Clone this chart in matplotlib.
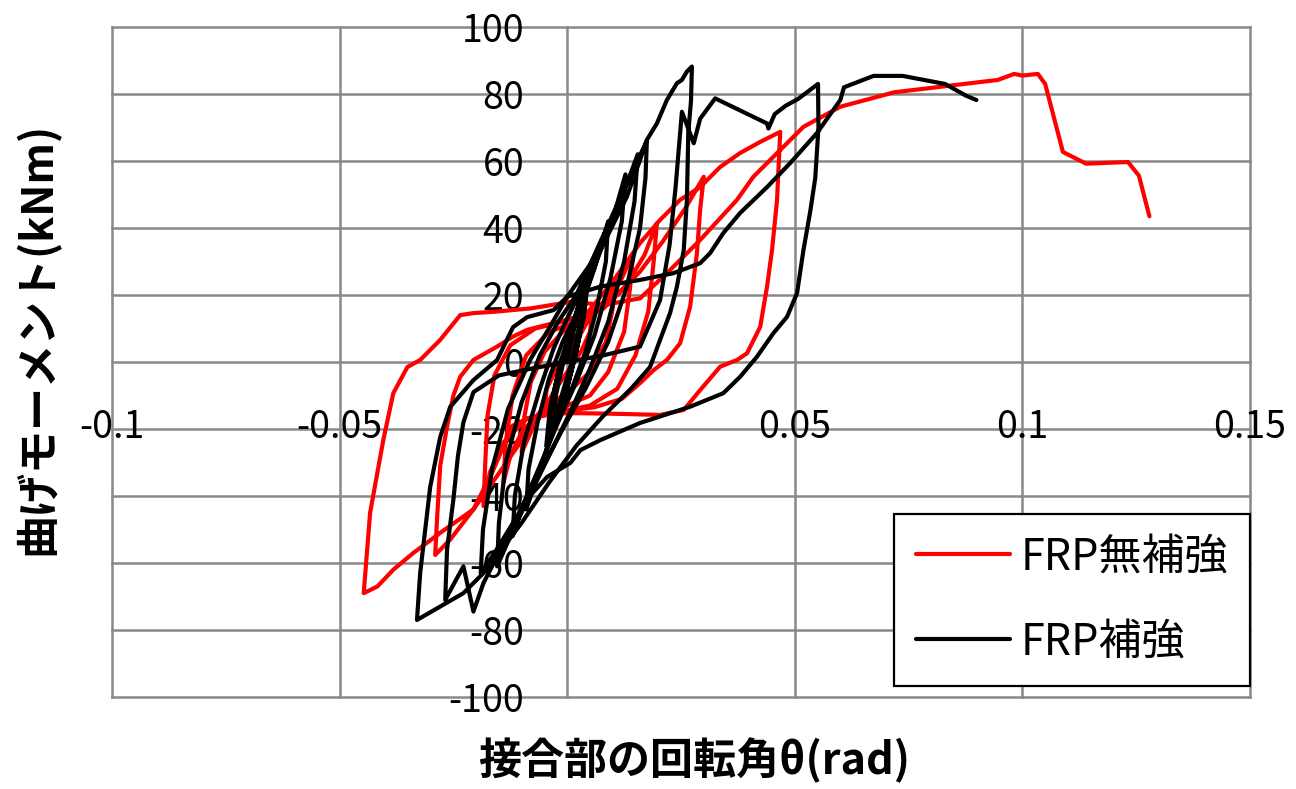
import matplotlib
matplotlib.use("Agg")
import matplotlib.pyplot as plt

plt.rcParams['font.family'] = ['Noto Sans CJK JP', 'DejaVu Sans']
plt.rcParams['axes.unicode_minus'] = False

# FRP無補強 (red) - rotation angle (rad) / bending moment (kNm), in loading order
red_theta = [
    0.000, 0.002, 0.004, 0.0055, 0.005, 0.003, 0.000, -0.003, -0.005, -0.0045, -0.002,
    0.001, 0.005, 0.008, 0.0105, 0.010, 0.0085, 0.005, 0.001, -0.003, -0.007, -0.010,
    -0.0095, -0.008, -0.005, -0.001,
    0.004, 0.009, 0.012, 0.0145, 0.0138, 0.0125, 0.009, 0.005, 0.000, -0.006, -0.010,
    -0.0125, -0.014, -0.0135, -0.012, -0.009, -0.004,
    0.002, 0.008, 0.013, 0.017, 0.0197, 0.019, 0.0178, 0.015, 0.011, 0.005, -0.002,
    -0.009, -0.014, -0.017, -0.0184, -0.018, -0.0175, -0.016, -0.0125, -0.007, -0.001,
    0.005, 0.011, 0.016, 0.021, 0.026, 0.030, 0.0292, 0.0285, 0.027, 0.0248, 0.0219,
    0.019, 0.016, 0.012, 0.006, 0.000, -0.006, -0.0103, -0.0154, -0.0206, -0.0257, -0.029,
    -0.0286, -0.0279, -0.0264, -0.025, -0.0235, -0.0206, -0.0154, -0.0119, -0.0088, -0.003,
    0.004, 0.010, 0.016, 0.0204, 0.0248, 0.0292, 0.0336, 0.038, 0.0424, 0.0468,
    0.0461, 0.045, 0.0439, 0.0424, 0.0395, 0.0373, 0.0336, 0.0292, 0.0256, 0.0204,
    0.012, 0.004, -0.001, -0.008, -0.012, -0.0165, -0.0206, -0.0279, -0.0338, -0.0382,
    -0.0417, -0.0447,
    -0.0433, -0.0404, -0.0382, -0.0351, -0.0323, -0.0279, -0.0235, -0.0206, -0.016, -0.008,
    0.001, 0.008, 0.016, 0.0219, 0.0292, 0.0373, 0.0409, 0.0468, 0.0519, 0.060, 0.0718,
    0.0946, 0.0982, 0.100, 0.1034, 0.105, 0.1089, 0.114, 0.1232, 0.1256, 0.1279,
]
red_moment = [
    0, 6, 11, 15, 9, 3, -3, -9, -14, -8, -1,
    6, 13, 18, 25, 16, 6, -3, -8, -12, -18, -27,
    -17, -6, 3, 9,
    13, 19, 25, 32.5, 22, 9, -3, -10, -13, -15, -21,
    -28, -36, -24, -10, 2, 9,
    12, 16, 23, 32, 41.4, 30, 15, 2, -8, -13, -15,
    -17, -24, -33, -43, -30, -16, -4, 5, 10, 12,
    15, 20, 27, 36, 46, 55.3, 45.4, 32.4, 16.5, 5.6, 0.6,
    -2.4, -6.3, -11, -13.5, -14.5, -16, -24, -34, -44, -53, -57.6,
    -47, -31, -19.3, -10, -4.4, 0.6, 4.6, 7.6, 9.6, 11.6,
    14, 24, 35.5, 42.4, 48.4, 52.2, 58.2, 62.4, 65.7, 68.7,
    48.4, 33.4, 22.5, 10.5, 2.6, 0.6, -1.4, -8.4, -14.3, -15.8,
    -15.5, -15.3, -15.3, -16.5, -19, -33, -44, -51, -57, -62,
    -67, -69,
    -45, -23.3, -9.3, -1.5, 0.6, 6.6, 14, 14.6, 15, 16,
    18, 17, 19, 26.5, 36.4, 48.4, 55.3, 63.3, 70.2, 76.2, 80.5,
    84.2, 86, 85.5, 86, 83, 62.7, 59.2, 59.7, 55.6, 43.5,
]

# FRP補強 (black)
black_theta = [
    0.000, 0.0015, 0.003, 0.0025, 0.001, -0.001, -0.003, -0.0025, -0.001,
    0.001, 0.0035, 0.003, 0.0015, -0.0005, -0.0035, -0.003, -0.0015,
    0.0005, 0.0038, 0.0032, 0.0015, -0.0008, -0.0038, -0.0032, -0.0015,
    0.001, 0.0042, 0.0035, 0.0018, -0.0005, -0.004, -0.0033, -0.0015,
    0.0005, 0.0044, 0.0036, 0.002, -0.0008, -0.0042, -0.0035, -0.0015,
    0.0008, 0.0040, 0.0034, 0.0017, -0.0006, -0.0045, -0.0037, -0.0018,
    0.0006, 0.0046, 0.0038, 0.0021, -0.0004, -0.0040, -0.0034, -0.0012,
    0.0010, 0.0041, 0.0036, 0.0019, -0.0010, -0.0046, -0.0038, -0.0016,
    0.0004, 0.0043, 0.0035, 0.0016, -0.0007, -0.0043, -0.0036, -0.0014,
    0.002, 0.006, 0.009, 0.0085, 0.0065, 0.004, 0.001, -0.003, -0.006, -0.009,
    -0.0085, -0.0065, -0.004, -0.001,
    0.003, 0.007, 0.0105, 0.0128, 0.012, 0.0095, 0.006, 0.002, -0.002, -0.006, -0.0095,
    -0.012, -0.0115, -0.0095, -0.006, -0.003, 0.000,
    0.004, 0.0085, 0.0125, 0.0155, 0.0148, 0.0125, 0.009, 0.005, 0.001, -0.004, -0.009,
    -0.0125, -0.0154, -0.015, -0.0135, -0.010, -0.006, -0.002, 0.002,
    0.006, 0.010, 0.014, 0.0175, 0.0172, 0.016, 0.013, 0.009, 0.004, -0.001, -0.006,
    -0.011, -0.0155, -0.019, -0.0185, -0.0165, -0.013, -0.008, -0.004, 0.000,
    0.0073, 0.0131, 0.016, 0.0175, 0.0197, 0.0219, 0.0241, 0.0252, 0.0263, 0.0274,
    0.0272, 0.0266, 0.0263, 0.0256, 0.0241, 0.0226, 0.0204, 0.0182, 0.014, 0.008, 0.002,
    -0.004, -0.010, -0.015, -0.0184, -0.0206, -0.0228, -0.0268,
    -0.0264, -0.025, -0.024, -0.0228, -0.0206, -0.015, -0.008, 0.000, 0.008, 0.016,
    0.0204, 0.0225, 0.0238, 0.0252,
    0.0278, 0.0292, 0.0305, 0.0325, 0.0439, 0.0442, 0.0456, 0.048, 0.0507, 0.0551,
    0.0552, 0.0545, 0.0534, 0.0519, 0.0505, 0.0483, 0.0453, 0.0417, 0.038, 0.0343, 0.0271,
    0.016, 0.0073, 0.0029, 0.0007, -0.0044, -0.0089, -0.0132, -0.0184, -0.0228, -0.0279, -0.033,
    -0.0323, -0.0301, -0.0279, -0.0257, -0.0206, -0.0154, -0.0119, -0.0088, -0.003, 0.000,
    0.0073, 0.016, 0.0233, 0.0292, 0.0314, 0.0343, 0.038, 0.0439, 0.049, 0.0549, 0.060,
    0.0608, 0.0673, 0.0737, 0.083, 0.0876, 0.0899,
]
black_moment = [
    0, 10, 19, 10, 0, -9, -19, -10, -1,
    8, 21, 11, 1, -10, -21, -11, -1,
    8, 23, 12, 1, -12, -23, -12, 0,
    10, 24, 13, 2, -10, -24, -13, -1,
    8, 25, 14, 3, -12, -25, -14, -1,
    9, 22, 13, 2, -11, -26, -15, -2,
    8, 25, 15, 4, -10, -22, -13, 0,
    10, 23, 14, 3, -12, -25, -14, -1,
    7, 24, 13, 1, -11, -24, -13, 0,
    12, 28, 42, 30, 16, 3, -8, -20, -32, -44,
    -32, -18, -5, 6,
    17, 32, 45, 56, 42, 25, 8, -6, -18, -31, -42,
    -52, -40, -24, -8, 4, 13,
    24, 38, 51, 62, 48, 30, 12, -2, -14, -28, -42,
    -52, -61, -48, -30, -12, 2, 12, 20,
    32, 44, 56, 66, 55, 40, 22, 6, -8, -20, -33,
    -46, -56, -63, -50, -32, -14, 1, 10, 19.5,
    33.4, 49.3, 60.3, 66.3, 71.2, 78.2, 83.2, 84.2, 86.7, 88.2,
    78, 68.4, 48.4, 33.4, 22.5, 14.6, 6.6, -1.5, -8, -16, -25,
    -36, -48, -57, -66, -74.5, -61, -71,
    -56, -41, -28, -18, -9, -4, -2, 0, 2, 4.6,
    18.5, 35, 52, 74.7,
    65.3, 72.6, 75, 78.7, 71.2, 69.7, 74, 76.5, 78.5, 83,
    70, 55, 45, 33.4, 20.6, 13.5, 8.6, 1.6, -4.4, -9.3, -13.3,
    -18.2, -23.3, -26.3, -30.1, -34.3, -41, -53, -63, -69, -73, -77,
    -63, -37.3, -22.4, -13.4, -5.4, 0.6, 10.4, 13.4, 15.5, 19.5,
    22.5, 24.5, 26.5, 29.5, 32.5, 38.5, 44.5, 52.2, 59.4, 68.4, 78.2,
    82, 85.4, 85.4, 83, 79.5, 78.2,
]

x_ticks = [-0.1, -0.05, 0.05, 0.1, 0.15]
x_tick_labels = ['-0.1', '-0.05', '0.05', '0.1', '0.15']
y_ticks = [-100, -80, -60, -40, -20, 0, 20, 40, 60, 80, 100]

fig = plt.figure(figsize=(12.96, 7.89), dpi=100)
ax = fig.add_axes([112 / 1296, 1 - 697 / 789, 1138 / 1296, 670 / 789])

line_style = dict(lw=3.0, solid_joinstyle='round', solid_capstyle='round')
ax.plot(red_theta, red_moment, color='#ff0000', label='FRP無補強', zorder=3, **line_style)
ax.plot(black_theta, black_moment, color='#000000', label='FRP補強', zorder=4, **line_style)

ax.set_xlim(-0.1, 0.15)
ax.set_ylim(-100, 100)

# grid lines every 0.05 / 20
for xv in [-0.1, -0.05, 0, 0.05, 0.1, 0.15]:
    ax.axvline(xv, color='#898989', lw=1.8, zorder=1, clip_on=False)
for yv in y_ticks:
    ax.axhline(yv, color='#898989', lw=1.8, zorder=1, clip_on=False)

# axes cross at the origin, labels next to them
for side in ['top', 'right', 'left', 'bottom']:
    ax.spines[side].set_color('none')
ax.spines['left'].set_position(('data', 0))
ax.spines['bottom'].set_position(('data', 0))
ax.set_xticks(x_ticks)
ax.set_xticklabels(x_tick_labels)
ax.set_yticks(y_ticks)
ax.set_yticklabels([str(v) for v in y_ticks])
ax.tick_params(axis='both', length=0, labelsize=27)
ax.tick_params(axis='y', pad=31)
ax.tick_params(axis='x', pad=33)
for lbl in ax.get_xticklabels() + ax.get_yticklabels():
    lbl.set_zorder(6)

fig.text(694.5 / 1296, 1 - 760 / 789, '接合部の回転角θ(rad)', fontsize=31,
         fontweight='bold', ha='center', va='center')
fig.text(37 / 1296, 1 - 338 / 789, '曲げモーメント(kNm)', fontsize=31,
         fontweight='bold', ha='center', va='center', rotation=90)

leg = ax.legend(loc='upper left', bbox_to_anchor=(894 / 1296, 1 - 514 / 789),
                bbox_transform=fig.transFigure, borderaxespad=0, fontsize=31,
                borderpad=0.5, labelspacing=0.95, handlelength=2.2, handletextpad=0.25,
                fancybox=False, framealpha=1, edgecolor='black')
leg.get_frame().set_linewidth(1.6)
leg.set_zorder(10)

fig.savefig('out.png', dpi=100)
